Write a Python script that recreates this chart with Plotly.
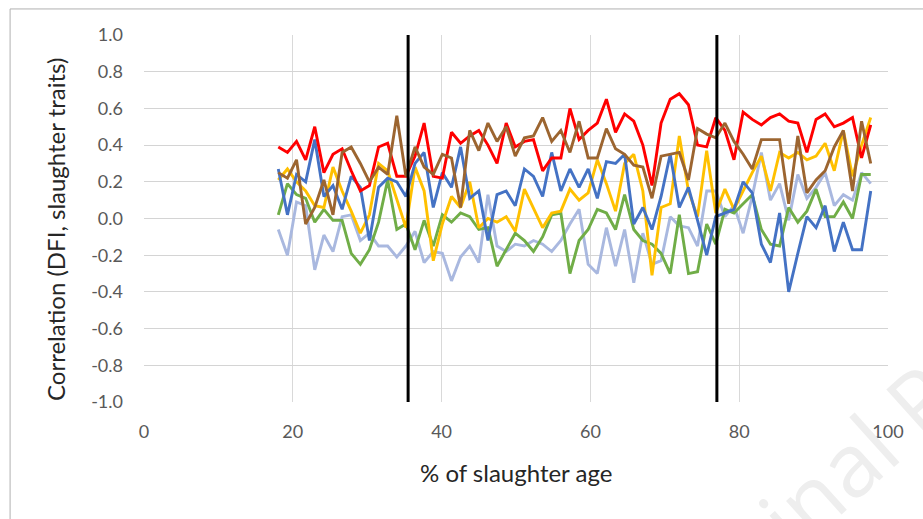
import plotly.graph_objects as go

# x positions (% of slaughter age)
x_pct = [18.05, 19.28, 20.50, 21.73, 22.95, 24.18, 25.40, 26.63, 27.85, 29.08,
         30.30, 31.53, 32.75, 33.98, 35.20, 36.43, 37.65, 38.88, 40.10, 41.33,
         42.55, 43.78, 45.00, 46.23, 47.45, 48.68, 49.90, 51.13, 52.35, 53.58,
         54.80, 56.03, 57.25, 58.48, 59.70, 60.93, 62.15, 63.38, 64.60, 65.83,
         67.05, 68.28, 69.50, 70.73, 71.95, 73.18, 74.40, 75.63, 76.85, 78.08,
         79.30, 80.53, 81.75, 82.98, 84.20, 85.43, 86.65, 87.88, 89.10, 90.33,
         91.55, 92.78, 94.00, 95.23, 96.45, 97.68]

red = [0.39, 0.36, 0.42, 0.32, 0.50, 0.25, 0.35, 0.38, 0.26, 0.15, 0.18, 0.39,
       0.41, 0.23, 0.23, 0.34, 0.52, 0.23, 0.22, 0.47, 0.41, 0.45, 0.48,
       0.40, 0.30, 0.52, 0.39, 0.42, 0.43, 0.26, 0.33, 0.33, 0.60,
       0.43, 0.48, 0.52, 0.65, 0.47, 0.57, 0.53, 0.40, 0.18, 0.52, 0.65, 0.68,
       0.62, 0.40, 0.39, 0.55, 0.48, 0.32, 0.58, 0.54, 0.51, 0.55,
       0.57, 0.53, 0.52, 0.36, 0.54, 0.57, 0.50, 0.52, 0.55, 0.33, 0.51]

brown = [0.25, 0.22, 0.32, -0.03, 0.06, 0.21, 0.02, 0.36, 0.39, 0.30, 0.20, 0.28,
         0.24, 0.56, 0.23, 0.39, 0.28, 0.24, 0.35, 0.33, 0.06, 0.48, 0.37,
         0.52, 0.42, 0.50, 0.34, 0.44, 0.45, 0.55, 0.42, 0.48, 0.36,
         0.53, 0.33, 0.33, 0.49, 0.38, 0.35, 0.29, 0.28, 0.11, 0.34, 0.35, 0.36,
         0.21, 0.49, 0.46, 0.44, 0.52, 0.42, 0.35, 0.27, 0.43, 0.43,
         0.43, 0.08, 0.45, 0.14, 0.21, 0.26, 0.39, 0.48, 0.15, 0.53, 0.30]

blue = [0.27, 0.02, 0.24, 0.20, 0.43, 0.12, 0.18, 0.05, 0.23, 0.17, -0.12, 0.17,
        0.22, 0.20, 0.12, 0.30, 0.36, 0.06, 0.25, 0.17, 0.39, 0.11, 0.15,
        -0.12, 0.13, 0.15, 0.07, 0.27, 0.23, 0.12, 0.36, 0.15, 0.27,
        0.17, 0.27, 0.11, 0.31, 0.30, 0.35, -0.03, 0.06, -0.06, 0.12, 0.35, 0.06,
        0.17, -0.01, -0.20, 0.01, 0.03, 0.05, 0.20, 0.14, -0.14, -0.24,
        0.03, -0.40, -0.19, 0.01, -0.05, 0.07, -0.18, -0.02, -0.17, -0.17, 0.15]

yellow = [0.21, 0.27, 0.20, 0.15, 0.07, 0.06, 0.28, 0.15, 0.04, -0.08, 0.02, 0.30,
          0.26, 0.10, -0.05, 0.28, 0.15, -0.23, -0.03, 0.12, 0.06, 0.20, -0.05,
          0.00, -0.02, 0.01, -0.07, 0.16, 0.06, -0.05, 0.03, 0.04, 0.16,
          0.10, 0.14, 0.32, 0.19, 0.04, 0.30, 0.35, 0.15, -0.31, 0.06, 0.08, 0.45,
          0.15, 0.01, 0.37, 0.03, 0.16, 0.05, 0.15, 0.25, 0.34, 0.15,
          0.36, 0.33, 0.36, 0.32, 0.34, 0.41, 0.26, 0.48, 0.23, 0.40, 0.55]

green = [0.02, 0.19, 0.13, 0.11, -0.02, 0.05, -0.01, -0.01, -0.19, -0.25, -0.17, -0.02,
         0.21, -0.06, -0.03, -0.17, -0.01, -0.15, 0.02, -0.02, 0.03, 0.01, -0.06,
         -0.05, -0.26, -0.17, -0.08, -0.12, -0.18, -0.10, 0.02, 0.03, -0.30,
         -0.12, -0.06, 0.05, 0.03, -0.06, 0.13, -0.06, -0.12, -0.14, -0.19, -0.30, 0.02,
         -0.30, -0.29, -0.03, -0.14, 0.05, 0.03, 0.08, 0.13, -0.06, -0.14,
         -0.15, 0.06, -0.02, 0.04, 0.16, 0.01, 0.01, 0.09, 0.00, 0.24, 0.24]

lavender = [-0.06, -0.20, 0.09, 0.07, -0.28, -0.09, -0.18, 0.01, 0.02, -0.12, -0.08, -0.15,
            -0.15, -0.21, -0.15, -0.07, -0.24, -0.18, -0.19, -0.34, -0.21, -0.15, -0.24,
            0.13, -0.15, -0.18, -0.14, -0.15, -0.12, -0.14, -0.18, -0.12, -0.03,
            0.05, -0.25, -0.30, -0.05, -0.26, -0.06, -0.35, -0.08, -0.25, -0.23, 0.01, -0.04,
            -0.05, -0.15, 0.15, 0.15, 0.01, 0.07, -0.08, 0.12, 0.36, 0.10,
            0.19, -0.01, 0.24, 0.11, 0.17, 0.25, 0.07, 0.13, 0.10, 0.25, 0.19]

boundaries = [35.5, 77.0]

x_ticks = [0, 20, 40, 60, 80, 100]
y_ticks = [-1.0, -0.8, -0.6, -0.4, -0.2, 0.0, 0.2, 0.4, 0.6, 0.8, 1.0]
y_tick_text = ["-1.0", "-0.8", "-0.6", "-0.4", "-0.2", "0.0", "0.2", "0.4", "0.6", "0.8", "1.0"]

series = [
    (lavender, "#A9B8DF"),
    (green, "#70AD47"),
    (yellow, "#FFC000"),
    (blue, "#4472C4"),
    (red, "#FF0000"),
    (brown, "#9C6530"),
]

fig = go.Figure()
for vals, col in series:
    fig.add_trace(go.Scatter(x=x_pct, y=vals, mode="lines",
                             line=dict(color=col, width=2.9),
                             hoverinfo="skip", showlegend=False))

shapes = []
for b in boundaries:
    shapes.append(dict(type="line", xref="x", yref="paper", x0=b, x1=b, y0=0, y1=1,
                       line=dict(color="#000000", width=3)))
# outer chart border
shapes.append(dict(type="rect", xref="paper", yref="paper", x0=-0.180, x1=1.2,
                   y0=-0.5, y1=1.071, line=dict(color="#B0B0B0", width=1),
                   layer="below"))

font_main = "Lato, 'Open Sans', sans-serif"

fig.update_layout(
    width=923, height=519,
    margin=dict(l=144, r=35, t=35, b=117),
    paper_bgcolor="white", plot_bgcolor="white",
    shapes=shapes,
    font=dict(family=font_main),
    xaxis=dict(range=[0, 100], tickvals=x_ticks, showgrid=True,
               gridcolor="#D9D9D9", gridwidth=1, zeroline=False,
               showline=False, ticks="", ticklabelstandoff=17,
               tickfont=dict(size=18, color="#595959", family=font_main)),
    yaxis=dict(range=[-1, 1], tickvals=y_ticks, ticktext=y_tick_text,
               showgrid=True, gridcolor="#D4D4D4", gridwidth=1.3,
               zeroline=False, showline=False, ticks="", ticklabelstandoff=20,
               tickfont=dict(size=18, color="#595959", family=font_main)),
    annotations=[
        dict(text="Correlation (DFI, slaughter traits)", xref="paper", yref="paper",
             x=-0.119, y=0.47, xanchor="center", yanchor="middle", textangle=-90,
             showarrow=False, font=dict(size=24, color="#262626", family=font_main)),
        dict(text="% of slaughter age", xref="paper", yref="paper",
             x=0.5, y=-0.191, xanchor="center", yanchor="middle",
             showarrow=False, font=dict(size=24, color="#262626", family=font_main)),
        dict(text="Original Paper", xref="paper", yref="paper",
             x=0.964, y=-0.134, xanchor="center", yanchor="middle", textangle=-42,
             showarrow=False, font=dict(size=88, color="#EEEEEE", family="'Open Sans', sans-serif")),
    ],
)

fig.write_html("out.html")
